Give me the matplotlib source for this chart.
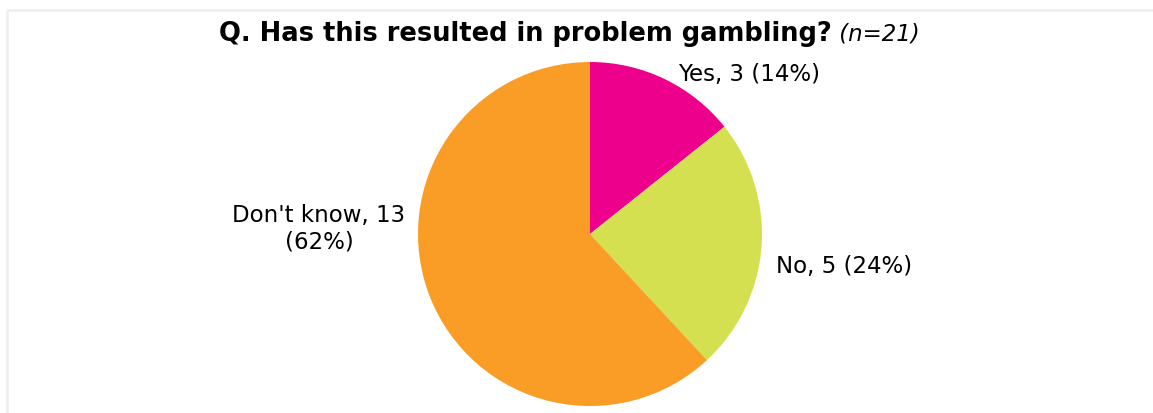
import matplotlib.pyplot as plt
from matplotlib.lines import Line2D

# Survey responses, n=21
categories = ["Yes", "No", "Don't know"]
counts = [3, 5, 13]
colors = ["#EC008C", "#D4E04F", "#F99D27"]

W, H = 1153, 413
fig = plt.figure(figsize=(W / 100, H / 100), dpi=100)
ax = fig.add_axes([0, 0, 1, 1])

ax.pie(counts, colors=colors, startangle=90, counterclock=False,
       center=(590, H - 234), radius=172, frame=True,
       wedgeprops=dict(linewidth=0))
ax.set_xlim(0, W)
ax.set_ylim(0, H)
ax.set_aspect("equal")
ax.axis("off")

# light frame (top and left edges) around the chart area
frame_kw = dict(color="#efefef", linewidth=2, solid_capstyle="butt")
ax.add_line(Line2D([7, W], [H - 10, H - 10], **frame_kw))
ax.add_line(Line2D([7, 7], [H - 10, 0], **frame_kw))

total = sum(counts)
pct = [round(100 * c / total) for c in counts]
font = "DejaVu Sans"
fs = 16.5
ax.text(749, H - 75, f"{categories[0]}, {counts[0]} ({pct[0]}%)",
        ha="center", va="center", fontsize=fs, family=font)
ax.text(844, H - 266, f"{categories[1]}, {counts[1]} ({pct[1]}%)",
        ha="center", va="center", fontsize=fs, family=font)
ax.text(319, H - 229, f"{categories[2]}, {counts[2]}\n({pct[2]}%)",
        ha="center", va="center", fontsize=fs, family=font,
        linespacing=1.18)

# title: bold question followed by italic sample size
t1 = ax.text(0, H - 34, "Q. Has this resulted in problem gambling?",
             ha="left", va="center", fontsize=18.5, fontweight="bold", family=font)
t2 = ax.text(0, H - 34, " (n=21)", ha="left", va="center",
             fontsize=fs, style="italic", family=font)
fig.canvas.draw()
r = fig.canvas.get_renderer()
w1 = t1.get_window_extent(r).width
w2 = t2.get_window_extent(r).width
x0 = 569 - (w1 + w2) / 2
t1.set_x(x0)
t2.set_x(x0 + w1)

fig.savefig("out.png", dpi=100, facecolor="white")
